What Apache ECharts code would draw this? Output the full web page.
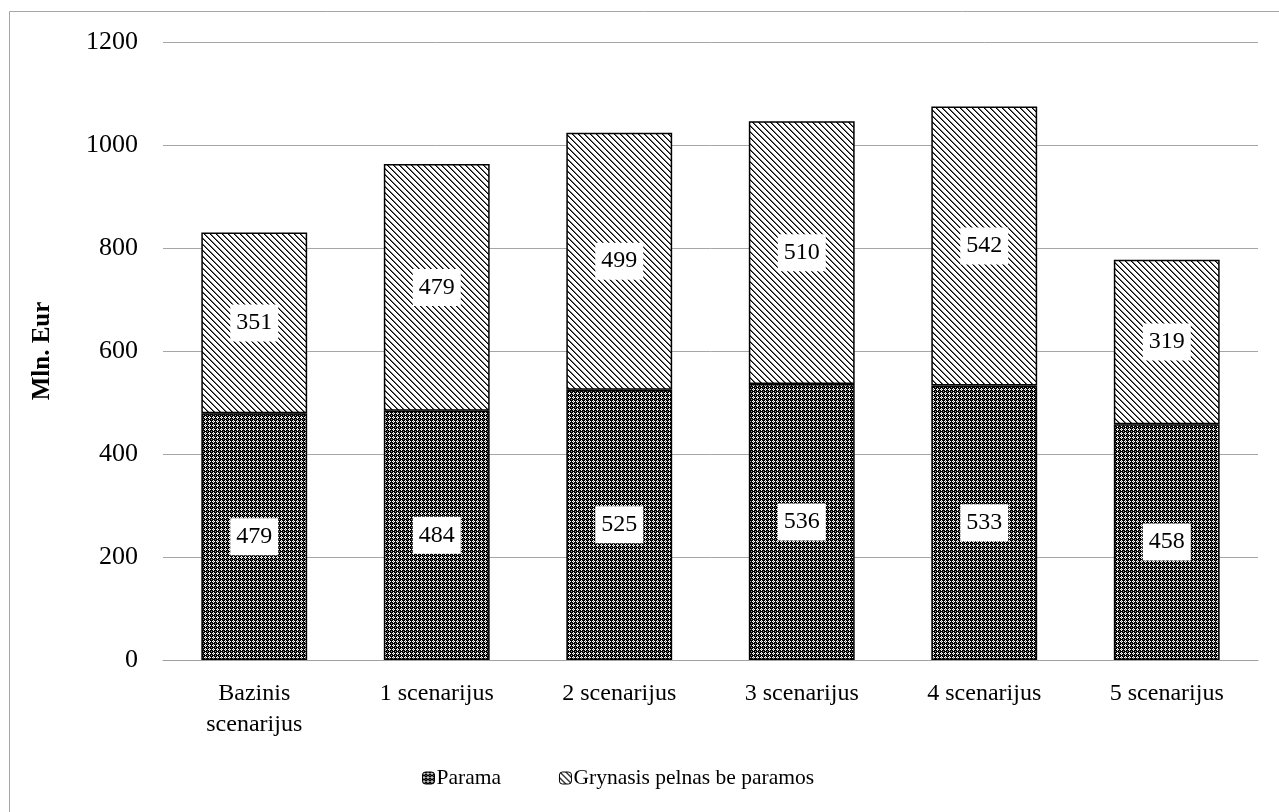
<!DOCTYPE html>
<html><head><meta charset="utf-8">
<script src="https://cdn.jsdelivr.net/npm/echarts@6/dist/echarts.min.js"></script>
<style>html,body{margin:0;padding:0;background:#fff}#c{width:1279px;height:812px}</style>
</head><body><div id="c"></div>
<script>
const categories = ['Bazinis\nscenarijus', '1 scenarijus', '2 scenarijus', '3 scenarijus', '4 scenarijus', '5 scenarijus'];
const parama = [479, 484, 525, 536, 533, 458];
const grynasis = [351, 479, 499, 510, 542, 319];
const seriesNames = ['Parama', 'Grynasis pelnas be paramos'];
const yTicks = { min: 0, max: 1200, step: 200 };

function dotPattern() {
  const c = document.createElement('canvas'); c.width = 4; c.height = 4;
  const g = c.getContext('2d');
  g.fillStyle = '#000'; g.fillRect(0, 0, 4, 4);
  g.fillStyle = '#fff';
  g.fillRect(1, 0, 1, 1); g.fillRect(0, 1, 1, 1); g.fillRect(2, 1, 1, 1); g.fillRect(1, 2, 1, 1);
  g.fillStyle = '#8a8a8a';
  g.fillRect(1, 1, 1, 1); g.fillRect(3, 3, 1, 1);
  return c;
}
function diagPattern() {
  const n = 6;
  const c = document.createElement('canvas'); c.width = n; c.height = n;
  const g = c.getContext('2d');
  g.fillStyle = '#fff'; g.fillRect(0, 0, n, n);
  for (let i = 0; i < n; i++) {
    g.fillStyle = '#000'; g.fillRect(i, i, 1, 1);
    g.fillStyle = '#6a6a6a'; g.fillRect((i + 1) % n, i, 1, 1);
  }
  return c;
}

const chart = echarts.init(document.getElementById('c'), null, { renderer: 'canvas' });
const font = '"Liberation Serif", "Times New Roman", serif';
const labelCfg = {
  show: true, position: 'inside', color: '#000', fontFamily: font, fontSize: 24,
  backgroundColor: '#fff', padding: [7, 6, 6, 6]
};
chart.setOption({
  animation: false,
  textStyle: { fontFamily: font },
  graphic: [{ type: 'rect', shape: { x: 9.5, y: 11.5, width: 1400, height: 1000 }, style: { fill: 'none', stroke: '#a6a6a6', lineWidth: 1 }, silent: true }],
  grid: { left: 163, right: 21, top: 42, bottom: 152 },
  legend: {
    top: 762, left: 417, itemWidth: 12, itemHeight: 12, itemGap: 58,
    itemStyle: { borderColor: '#000', borderWidth: 1 },
    textStyle: { fontFamily: font, fontSize: 21.5, color: '#000', padding: [0, 0, 0, -3] },
    data: seriesNames
  },
  xAxis: {
    type: 'category', data: categories,
    axisLine: { lineStyle: { color: '#a0a0a0', width: 1 } },
    axisTick: { show: false },
    axisLabel: { color: '#000', fontFamily: font, fontSize: 24, lineHeight: 31, margin: 18, interval: 0 }
  },
  yAxis: {
    type: 'value', min: yTicks.min, max: yTicks.max, interval: yTicks.step,
    name: 'Mln. Eur', nameLocation: 'middle', nameGap: 108,
    nameTextStyle: { fontFamily: font, fontSize: 25, fontWeight: 'bold', color: '#000' },
    axisLine: { show: false }, axisTick: { show: false },
    axisLabel: { color: '#000', fontFamily: font, fontSize: 26, margin: 25, formatter: v => String(v) },
    splitLine: { lineStyle: { color: '#a6a6a6', width: 1 } }
  },
  series: [
    { name: seriesNames[0], type: 'bar', stack: 's', data: parama, barWidth: '58%',
      itemStyle: { color: { image: dotPattern(), repeat: 'repeat' }, borderColor: '#000', borderWidth: 1.5 },
      label: labelCfg },
    { name: seriesNames[1], type: 'bar', stack: 's', data: grynasis, barWidth: '58%',
      itemStyle: { color: { image: diagPattern(), repeat: 'repeat' }, borderColor: '#000', borderWidth: 1.5 },
      label: labelCfg }
  ]
});
</script></body></html>
